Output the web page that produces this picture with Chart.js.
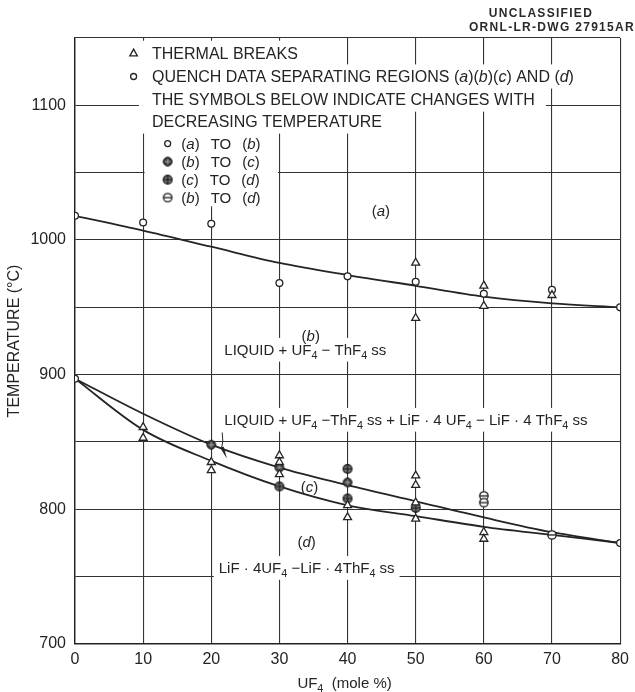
<!DOCTYPE html>
<html>
<head>
	<meta charset="utf-8">
	<title>UF4 - ThF4 phase diagram</title>
	<style>
		html, body { margin: 0; padding: 0; background: #fff; }
	</style>
</head>
<body>
	<canvas id="myChart" width="635" height="692"></canvas>
	<script type="text/javascript" src="https://cdn.jsdelivr.net/npm/chart.js@4.4.1/dist/chart.umd.min.js"></script>
	<script type="text/javascript">
		// UF4 mole % on x, temperature in C on y
		let curveX = [0, 10, 20, 30, 40, 50, 60, 70, 80];
		let liquidusT = [1018, 1007, 995, 983, 974, 966, 958, 953, 950];
		let bcBoundaryT = [897, 871, 848, 831, 818, 806, 794, 783, 775];
		let cdBoundaryT = [897, 859, 836, 817, 803, 795, 787, 781, 775];

		// thermal breaks (triangles)
		let breaksX = [10, 10, 20, 20, 30, 30, 30, 40, 40, 50, 50, 50, 50, 50, 50, 60, 60, 60, 60, 70];
		let breaksT = [861, 853, 835, 829, 840, 835, 826, 803, 794, 983, 942, 825, 818, 805, 793, 966, 951, 783, 778, 959];

		// quench data
		let abX = [0, 10, 20, 30, 40, 50, 60, 70, 80, 0, 80];
		let abT = [1018, 1013, 1012, 968, 973, 969, 960, 963, 950, 897, 775];
		let bcX = [20, 30, 40];
		let bcT = [848, 831, 820];
		let cdX = [30, 40, 40, 50];
		let cdT = [817, 830, 808, 801];
		let bdX = [60, 60, 70];
		let bdT = [810, 805, 781];

		let legendLines = [
			"THERMAL BREAKS",
			"QUENCH DATA SEPARATING REGIONS ({a})({b})({c}) AND ({d})",
			"THE SYMBOLS BELOW INDICATE CHANGES WITH",
			"DECREASING TEMPERATURE"
		];
		let legendItems = [
			"({a})~TO~({b})",
			"({b})~TO~({c})",
			"({c})~TO~({d})",
			"({b})~TO~({d})"
		];

		const FONT = "'Liberation Sans', Arial, sans-serif";
		const INK = "#242424";

		function pts(xs, ys) {
			return xs.map((x, i) => ({x: x, y: ys[i]}));
		}

		function mkSymbol(draw) {
			let c = document.createElement("canvas");
			c.width = 12; c.height = 12;
			let g = c.getContext("2d");
			draw(g);
			return c;
		}
		const symBC = mkSymbol(function(g) {
			g.beginPath(); g.arc(6, 6, 4.4, 0, 2 * Math.PI);
			g.fillStyle = "#3a3a3a"; g.fill();
			g.lineWidth = 1; g.strokeStyle = "#1a1a1a"; g.stroke();
			g.strokeStyle = "#b0b0b0"; g.beginPath();
			g.moveTo(6, 3.2); g.lineTo(6, 8.8); g.moveTo(3.2, 6); g.lineTo(8.8, 6); g.stroke();
		});
		const symCD = mkSymbol(function(g) {
			g.beginPath(); g.arc(6, 6, 4.4, 0, 2 * Math.PI);
			g.fillStyle = "#707070"; g.fill();
			g.lineWidth = 1.2; g.strokeStyle = "#1a1a1a"; g.stroke();
			g.beginPath();
			g.moveTo(6, 1.8); g.lineTo(6, 10.2); g.moveTo(1.8, 6); g.lineTo(10.2, 6); g.stroke();
		});
		const symBD = mkSymbol(function(g) {
			g.beginPath(); g.arc(6, 6, 4.2, 0, 2 * Math.PI);
			g.fillStyle = "#fff"; g.fill();
			g.lineWidth = 1.3; g.strokeStyle = "#1a1a1a"; g.stroke();
			g.beginPath(); g.moveTo(2, 6); g.lineTo(10, 6); g.stroke();
		});

		// simple markup: {x} italic, _4 subscript, ~ wide gap
		function parseRich(s) {
			let out = [], buf = "", italic = false;
			function flush() { if (buf) out.push({t: buf, i: italic}); buf = ""; }
			for (let k = 0; k < s.length; ++k) {
				let ch = s[k];
				if (ch === "{") { flush(); italic = true; }
				else if (ch === "}") { flush(); italic = false; }
				else if (ch === "_") { flush(); out.push({t: s[k + 1], sub: true}); k++; }
				else if (ch === "~") { flush(); out.push({gap: 11}); }
				else buf += ch;
			}
			flush();
			return out;
		}

		function segFont(seg, size) {
			let sz = seg.sub ? size * 0.72 : size;
			return (seg.i ? "italic " : "") + sz + "px " + FONT;
		}

		function richWidth(ctx, segs, size) {
			let w = 0;
			segs.forEach(function(seg) {
				if (seg.gap) { w += seg.gap; return; }
				ctx.font = segFont(seg, size);
				w += ctx.measureText(seg.t).width;
			});
			return w;
		}

		function drawRich(ctx, s, x, y, size, align) {
			let segs = parseRich(s);
			let w = richWidth(ctx, segs, size);
			if (align === "center") x -= w / 2;
			ctx.fillStyle = INK;
			ctx.textBaseline = "alphabetic";
			ctx.textAlign = "left";
			let base = y + size * 0.36;
			segs.forEach(function(seg) {
				if (seg.gap) { x += seg.gap; return; }
				ctx.font = segFont(seg, size);
				ctx.fillText(seg.t, x, seg.sub ? base + size * 0.26 : base);
				x += ctx.measureText(seg.t).width;
			});
			return w;
		}

		function whiteBox(ctx, s, x, y, size, align, padX, padY, extraLeft) {
			let w = richWidth(ctx, parseRich(s), size);
			let left = align === "center" ? x - w / 2 : x;
			let h = size * 1.45;
			ctx.fillStyle = "#fff";
			ctx.fillRect(left - padX - (extraLeft || 0), y - h / 2 - padY, w + 2 * padX + (extraLeft || 0), h + 2 * padY);
		}

		function drawTriangle(ctx, x, y, r) {
			ctx.beginPath();
			ctx.moveTo(x, y - r);
			ctx.lineTo(x + r * 0.9, y + r * 0.6);
			ctx.lineTo(x - r * 0.9, y + r * 0.6);
			ctx.closePath();
			ctx.fillStyle = "#fff"; ctx.fill();
			ctx.lineWidth = 1.3; ctx.strokeStyle = INK; ctx.stroke();
		}

		function drawOpenCircle(ctx, x, y, r) {
			ctx.beginPath(); ctx.arc(x, y, r, 0, 2 * Math.PI);
			ctx.fillStyle = "#fff"; ctx.fill();
			ctx.lineWidth = 1.3; ctx.strokeStyle = INK; ctx.stroke();
		}

		// region labels, positioned in data units
		let regionLabels = [
			{t: "({a})", x: 44.9, y: 1022, align: "center", bg: false},
			{t: "({b})", x: 34.6, y: 929, align: "center", bg: true},
			{t: "LIQUID + UF_4 − ThF_4 ss", x: 33.8, y: 918.5, align: "center", bg: true},
			{t: "LIQUID + UF_4 −ThF_4 ss + LiF · 4 UF_4 − LiF · 4 ThF_4 ss", x: 21.9, y: 866.5, align: "left", bg: true},
			{t: "({c})", x: 34.4, y: 817, align: "center", bg: false},
			{t: "({d})", x: 34, y: 776, align: "center", bg: false},
			{t: "LiF · 4UF_4 −LiF · 4ThF_4 ss", x: 21.1, y: 756.5, align: "left", bg: true}
		];

		let annotations = {
			id: "annotations",
			beforeDatasetsDraw: function(chart) {
				let ctx = chart.ctx, xs = chart.scales.x, ys = chart.scales.y;
				ctx.save();
				// legend block
				let symX = xs.getPixelForValue(8.6), txtX = xs.getPixelForValue(11.3);
				let lineT = [1139, 1121.4, 1104.3, 1088];
				legendLines.forEach(function(s, i) {
					let y = ys.getPixelForValue(lineT[i]);
					whiteBox(ctx, s, txtX, y, 16, "left", 11, 0.5, i < 2 ? 14 : 2);
				});
				// sub legend panel between gridlines 10 and 30
				let px0 = xs.getPixelForValue(10) + 1.5, px1 = xs.getPixelForValue(30) - 1.5;
				let py0 = ys.getPixelForValue(1080), py1 = ys.getPixelForValue(1025);
				ctx.fillStyle = "#fff";
				ctx.fillRect(px0, py0, px1 - px0, py1 - py0);

				regionLabels.forEach(function(l) {
					if (!l.bg) return;
					whiteBox(ctx, l.t, xs.getPixelForValue(l.x), ys.getPixelForValue(l.y), 15, l.align, 5, 1);
				});

				legendLines.forEach(function(s, i) {
					let y = ys.getPixelForValue(lineT[i]);
					drawRich(ctx, s, txtX, y, 16, "left");
				});
				drawTriangle(ctx, symX, ys.getPixelForValue(lineT[0]) + 0.5, 4.2);
				drawOpenCircle(ctx, symX, ys.getPixelForValue(lineT[1]), 3);

				let itemT = [1071.6, 1058.2, 1044.8, 1031.5];
				let iSym = xs.getPixelForValue(13.6), iTxt = xs.getPixelForValue(15.6);
				let syms = [null, symBC, symCD, symBD];
				legendItems.forEach(function(s, i) {
					let y = ys.getPixelForValue(itemT[i]);
					drawRich(ctx, s, iTxt, y, 15, "left");
					if (i === 0) drawOpenCircle(ctx, iSym, y, 3);
					else ctx.drawImage(syms[i], iSym - 6, y - 6);
				});

				regionLabels.forEach(function(l) {
					drawRich(ctx, l.t, xs.getPixelForValue(l.x), ys.getPixelForValue(l.y), 15, l.align);
				});
				ctx.restore();
			},
			afterDatasetsDraw: function(chart) {
				let ctx = chart.ctx, xs = chart.scales.x, ys = chart.scales.y;
				ctx.save();
				// small arrow into region (c)
				let ax = xs.getPixelForValue(21.6), ay = ys.getPixelForValue(857);
				let bx = xs.getPixelForValue(22.3), by = ys.getPixelForValue(837.5);
				ctx.strokeStyle = INK; ctx.lineWidth = 1;
				ctx.beginPath();
				ctx.moveTo(ax, ay);
				ctx.quadraticCurveTo(ax + 1.5, (ay + by) / 2 - 4, ax - 0.5, by - 11);
				ctx.stroke();
				ctx.beginPath();
				ctx.moveTo(ax - 2, by - 11);
				ctx.lineTo(ax + 1.6, by - 12);
				ctx.lineTo(bx, by);
				ctx.closePath();
				ctx.fillStyle = INK; ctx.fill();

				// axis title with subscript
				drawRich(ctx, "UF_4  (mole %)", (chart.chartArea.left + chart.chartArea.right) / 2 - 3, 683, 15, "center");

				// drawing number
				ctx.fillStyle = "#2a2a2a";
				ctx.textBaseline = "middle";
				ctx.font = "bold 12px " + FONT;
				if ("letterSpacing" in ctx) ctx.letterSpacing = "1.3px";
				ctx.textAlign = "center";
				ctx.fillText("UNCLASSIFIED", 541, 14);
				ctx.textAlign = "right";
				ctx.fillText("ORNL-LR-DWG 27915AR", 635, 28);
				ctx.restore();
			}
		};

		let curveStyle = {
			showLine: true,
			pointRadius: 0,
			borderColor: INK,
			borderWidth: 1.8,
			cubicInterpolationMode: "monotone",
			order: 1
		};

		let data = {
			datasets: [
				Object.assign({label: "liquidus", data: pts(curveX, liquidusT)}, curveStyle),
				Object.assign({label: "b-c", data: pts(curveX, bcBoundaryT)}, curveStyle),
				Object.assign({label: "c-d", data: pts(curveX, cdBoundaryT)}, curveStyle),
				{label: "Thermal breaks", data: pts(breaksX, breaksT), pointStyle: "triangle", pointRadius: 4.6, borderWidth: 1.3, borderColor: INK, backgroundColor: "#fff", order: 0},
				{label: "(a) to (b)", data: pts(abX, abT), pointStyle: "circle", pointRadius: 3.4, borderWidth: 1.3, borderColor: INK, backgroundColor: "#fff", order: 0},
				{label: "(b) to (c)", data: pts(bcX, bcT), pointStyle: symBC, order: 0},
				{label: "(c) to (d)", data: pts(cdX, cdT), pointStyle: symCD, order: 0},
				{label: "(b) to (d)", data: pts(bdX, bdT), pointStyle: symBD, order: 0}
			]
		};

		let config = {
			type: "scatter",
			data: data,
			plugins: [annotations],
			options: {
				responsive: false,
				animation: false,
				devicePixelRatio: 1,
				layout: { padding: { top: 38, right: 13, left: 0, bottom: 0 } },
				plugins: {
					legend: { display: false },
					tooltip: { enabled: false }
				},
				scales: {
					x: {
						type: "linear",
						min: 0, max: 80,
						afterFit: function(s) { s.height = 48; },
						grid: { color: "#333", lineWidth: 1.1, drawTicks: false },
						border: { color: "#222", width: 1.4 },
						ticks: { stepSize: 10, padding: 6, color: INK, font: { size: 16, family: FONT } }
					},
					y: {
						min: 700, max: 1150,
						afterFit: function(s) { s.width = 75; },
						grid: { color: "#333", lineWidth: 1.1, drawTicks: false },
						border: { color: "#222", width: 1.4 },
						ticks: {
							stepSize: 50, padding: 9, color: INK,
							font: { size: 16, family: FONT },
							callback: function(v) { return v % 100 === 0 ? v : ""; }
						},
						title: {
							display: true,
							text: "TEMPERATURE (°C)",
							color: INK,
							font: { size: 16, family: FONT },
							padding: { top: 5, bottom: 0 }
						}
					}
				}
			}
		};

		let myChart = new Chart(document.getElementById("myChart").getContext("2d"), config);
	</script>
</body>
</html>
